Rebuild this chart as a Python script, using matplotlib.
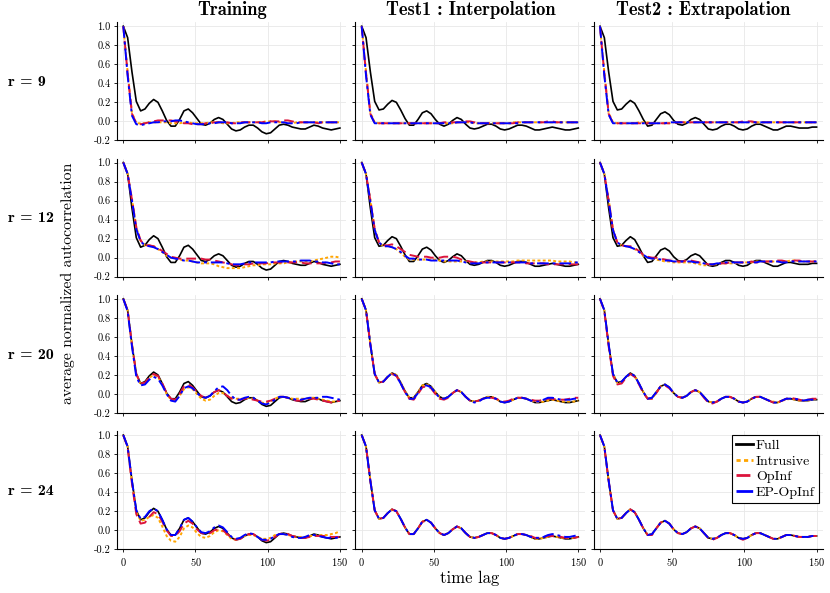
import numpy as np
import matplotlib
matplotlib.use("Agg")
import matplotlib.pyplot as plt

plt.rcParams['font.family'] = 'serif'
plt.rcParams['font.serif'] = ['cmr10']
plt.rcParams['mathtext.fontset'] = 'cm'
plt.rcParams['axes.formatter.use_mathtext'] = True

# time lags (every 3 steps)
lags = np.arange(0, 151, 3)

col_titles = ['Training', 'Test1 : Interpolation', 'Test2 : Extrapolation']
ranks = [9, 12, 20, 24]
labels = ['Full', 'Intrusive', 'OpInf', 'EP-OpInf']

# ---- full model (same in each row) ----
full_train = [1.00, 0.88, 0.52, 0.21, 0.11, 0.13, 0.19, 0.23, 0.20, 0.11,
              0.01, -0.05, -0.05, 0.02, 0.11, 0.13, 0.09, 0.03, -0.03, -0.04,
              -0.02, 0.02, 0.04, 0.02, -0.03, -0.08, -0.10, -0.09, -0.06, -0.04,
              -0.04, -0.07, -0.11, -0.13, -0.12, -0.08, -0.04, -0.03, -0.04, -0.06,
              -0.07, -0.08, -0.08, -0.06, -0.04, -0.05, -0.07, -0.08, -0.09, -0.08,
              -0.07]
full_interp = [1.00, 0.88, 0.52, 0.21, 0.12, 0.13, 0.18, 0.22, 0.20, 0.12,
               0.03, -0.04, -0.04, 0.02, 0.09, 0.11, 0.08, 0.02, -0.03, -0.05,
               -0.03, 0.01, 0.04, 0.02, -0.03, -0.07, -0.08, -0.07, -0.05, -0.03,
               -0.03, -0.05, -0.08, -0.09, -0.08, -0.06, -0.04, -0.04, -0.05, -0.07,
               -0.09, -0.09, -0.08, -0.07, -0.06, -0.07, -0.08, -0.09, -0.09, -0.08,
               -0.07]
full_extrap = [1.00, 0.88, 0.52, 0.21, 0.12, 0.13, 0.18, 0.22, 0.19, 0.11,
               0.02, -0.05, -0.04, 0.02, 0.08, 0.10, 0.07, 0.01, -0.03, -0.04,
               -0.02, 0.02, 0.04, 0.02, -0.03, -0.08, -0.09, -0.08, -0.05, -0.03,
               -0.03, -0.05, -0.08, -0.09, -0.08, -0.05, -0.03, -0.03, -0.05, -0.07,
               -0.09, -0.09, -0.07, -0.05, -0.05, -0.06, -0.07, -0.07, -0.07, -0.06,
               -0.06]

# ---- r = 9 ----
intr_9_train = [1.00, 0.52, 0.09, -0.02, -0.02, -0.02, -0.01, -0.01, -0.01, -0.01,
                -0.01, -0.02, -0.02, -0.02, -0.01, -0.01, -0.02, -0.02, -0.02, -0.02,
                -0.01, -0.01, -0.01, -0.02, -0.02, -0.02, -0.01, -0.01, -0.01, -0.01,
                -0.01, -0.01, -0.01, 0.00, 0.00, 0.00, -0.01, -0.01, -0.02, -0.02,
                -0.01, -0.01, -0.01, -0.01, -0.01, -0.01, -0.01, -0.01, -0.01, -0.01,
                -0.01]
opinf_9_train = [1.00, 0.50, 0.08, -0.02, -0.03, -0.02, -0.01, 0.00, 0.01, 0.01,
                 0.01, 0.01, 0.00, -0.01, -0.02, -0.02, -0.03, -0.03, -0.03, -0.02,
                 -0.02, -0.01, -0.01, -0.01, -0.01, -0.02, -0.02, -0.01, -0.01, -0.01,
                 -0.01, -0.01, -0.01, 0.00, 0.00, 0.00, 0.00, 0.01, 0.01, 0.00,
                 -0.01, -0.01, -0.01, -0.01, -0.01, -0.02, -0.01, -0.01, -0.01, -0.01,
                 -0.01]
ep_9_train = [1.00, 0.48, 0.06, -0.03, -0.04, -0.03, -0.02, -0.01, -0.01, 0.00,
              0.00, 0.00, 0.01, 0.01, 0.00, -0.01, -0.02, -0.03, -0.03, -0.03,
              -0.02, -0.02, -0.01, -0.01, -0.01, -0.02, -0.02, -0.02, -0.01, -0.01,
              -0.01, -0.01, -0.02, -0.02, -0.01, -0.01, -0.01, -0.01, -0.02, -0.02,
              -0.02, -0.01, -0.01, -0.01, -0.01, -0.01, -0.01, -0.01, -0.01, -0.01,
              -0.01]
intr_9_interp = [1.00, 0.52, 0.09, -0.01, -0.02, -0.02, -0.02, -0.02, -0.02, -0.02,
                 -0.02, -0.02, -0.02, -0.02, -0.02, -0.02, -0.02, -0.02, -0.02, -0.02,
                 -0.02, -0.02, -0.01, -0.01, -0.01, -0.01, -0.02, -0.02, -0.02, -0.02,
                 -0.02, -0.02, -0.02, -0.02, -0.02, -0.01, -0.01, -0.01, -0.01, -0.01,
                 -0.01, -0.01, -0.01, -0.01, -0.01, -0.01, -0.01, -0.01, -0.01, -0.01,
                 -0.01]
opinf_9_interp = [1.00, 0.50, 0.08, -0.02, -0.02, -0.02, -0.02, -0.02, -0.02, -0.02,
                  -0.02, -0.02, -0.02, -0.02, -0.02, -0.02, -0.02, -0.02, -0.02, -0.01,
                  -0.01, -0.01, -0.01, -0.01, 0.00, 0.00, -0.01, -0.02, -0.02, -0.02,
                  -0.02, -0.02, -0.02, -0.02, -0.02, -0.02, -0.01, -0.01, -0.01, -0.01,
                  -0.01, -0.01, -0.01, 0.00, 0.00, -0.01, -0.01, -0.01, -0.01, -0.01,
                  -0.01]
ep_9_interp = [1.00, 0.48, 0.07, -0.02, -0.02, -0.02, -0.02, -0.02, -0.02, -0.02,
               -0.02, -0.02, -0.02, -0.02, -0.02, -0.02, -0.02, -0.02, -0.02, -0.02,
               -0.02, -0.02, -0.01, -0.01, -0.01, -0.01, -0.02, -0.02, -0.02, -0.02,
               -0.02, -0.02, -0.02, -0.02, -0.02, -0.02, -0.02, -0.01, -0.01, -0.01,
               -0.01, -0.01, -0.01, -0.01, -0.01, -0.01, -0.01, -0.01, -0.01, -0.01,
               -0.01]
intr_9_extrap = [1.00, 0.52, 0.09, -0.01, -0.02, -0.02, -0.02, -0.02, -0.02, -0.01,
                 -0.01, -0.01, -0.02, -0.02, -0.02, -0.02, -0.02, -0.01, -0.01, -0.01,
                 -0.01, -0.01, -0.01, -0.01, -0.01, -0.01, -0.01, -0.01, -0.01, -0.01,
                 -0.01, -0.01, -0.01, -0.01, -0.01, -0.01, -0.01, -0.01, -0.01, -0.01,
                 -0.01, -0.01, -0.01, -0.01, -0.01, -0.01, -0.01, -0.01, -0.01, -0.01,
                 -0.01]
opinf_9_extrap = [1.00, 0.50, 0.08, -0.02, -0.02, -0.02, -0.02, -0.02, -0.02, -0.02,
                  -0.02, -0.02, -0.02, -0.02, -0.02, -0.02, -0.02, -0.02, -0.01, -0.01,
                  -0.01, -0.01, -0.01, -0.01, -0.01, -0.01, -0.01, -0.01, -0.01, -0.01,
                  -0.01, -0.01, -0.01, 0.00, 0.00, 0.00, -0.01, -0.01, -0.01, -0.01,
                  -0.01, -0.01, -0.01, -0.01, -0.01, -0.01, -0.01, -0.01, -0.01, -0.01,
                  -0.01]
ep_9_extrap = [1.00, 0.48, 0.07, -0.02, -0.02, -0.02, -0.02, -0.02, -0.02, -0.02,
               -0.02, -0.02, -0.02, -0.02, -0.02, -0.02, -0.01, -0.01, -0.01, -0.01,
               -0.01, -0.01, -0.01, -0.01, -0.01, -0.01, -0.01, -0.01, -0.01, -0.01,
               -0.01, -0.01, -0.01, -0.01, -0.01, -0.01, -0.01, -0.01, -0.01, -0.01,
               -0.01, -0.01, -0.01, -0.01, -0.01, -0.01, -0.01, -0.01, -0.01, -0.01,
               -0.01]

# ---- r = 12 ----
intr_12_train = [1.00, 0.88, 0.62, 0.32, 0.18, 0.13, 0.13, 0.12, 0.09, 0.06,
                 0.02, 0.00, -0.01, -0.02, -0.03, -0.03, -0.04, -0.05, -0.06, -0.06,
                 -0.06, -0.07, -0.09, -0.10, -0.11, -0.11, -0.11, -0.11, -0.10, -0.09,
                 -0.08, -0.08, -0.07, -0.07, -0.07, -0.06, -0.06, -0.06, -0.05, -0.05,
                 -0.04, -0.04, -0.04, -0.04, -0.03, -0.02, -0.01, 0.00, 0.01, 0.01,
                 0.00]
opinf_12_train = [1.00, 0.88, 0.61, 0.32, 0.18, 0.13, 0.13, 0.12, 0.10, 0.07,
                  0.04, 0.01, 0.00, -0.01, -0.01, -0.01, -0.01, -0.01, -0.01, -0.02,
                  -0.02, -0.03, -0.04, -0.05, -0.06, -0.07, -0.08, -0.08, -0.07, -0.07,
                  -0.06, -0.06, -0.06, -0.06, -0.05, -0.05, -0.05, -0.05, -0.05, -0.05,
                  -0.05, -0.05, -0.06, -0.06, -0.06, -0.06, -0.06, -0.05, -0.05, -0.04,
                  -0.04]
ep_12_train = [1.00, 0.88, 0.60, 0.30, 0.17, 0.13, 0.12, 0.11, 0.09, 0.06,
               0.03, 0.00, -0.01, -0.02, -0.03, -0.03, -0.04, -0.05, -0.05, -0.05,
               -0.05, -0.05, -0.05, -0.05, -0.06, -0.07, -0.07, -0.07, -0.06, -0.05,
               -0.05, -0.05, -0.05, -0.05, -0.05, -0.04, -0.04, -0.04, -0.04, -0.04,
               -0.04, -0.03, -0.03, -0.03, -0.04, -0.04, -0.05, -0.05, -0.06, -0.07,
               -0.07]
intr_12_interp = [1.00, 0.88, 0.61, 0.30, 0.16, 0.12, 0.12, 0.11, 0.09, 0.05,
                  0.01, -0.02, -0.02, -0.02, -0.02, -0.02, -0.02, -0.02, -0.03, -0.04,
                  -0.04, -0.04, -0.04, -0.04, -0.04, -0.05, -0.05, -0.05, -0.04, -0.04,
                  -0.04, -0.04, -0.04, -0.04, -0.04, -0.04, -0.03, -0.03, -0.03, -0.03,
                  -0.03, -0.03, -0.03, -0.03, -0.03, -0.04, -0.04, -0.04, -0.04, -0.05,
                  -0.05]
opinf_12_interp = [1.00, 0.88, 0.60, 0.30, 0.16, 0.13, 0.13, 0.14, 0.12, 0.09,
                   0.06, 0.03, 0.02, 0.01, 0.01, 0.01, 0.00, 0.00, 0.00, 0.01,
                   0.01, 0.01, 0.00, -0.02, -0.03, -0.04, -0.05, -0.05, -0.05, -0.05,
                   -0.05, -0.05, -0.05, -0.05, -0.05, -0.05, -0.05, -0.05, -0.06, -0.06,
                   -0.06, -0.06, -0.06, -0.07, -0.07, -0.07, -0.07, -0.07, -0.07, -0.07,
                   -0.07]
ep_12_interp = [1.00, 0.88, 0.59, 0.29, 0.16, 0.12, 0.12, 0.11, 0.09, 0.06,
                0.02, -0.01, -0.01, -0.02, -0.02, -0.02, -0.03, -0.03, -0.03, -0.03,
                -0.03, -0.03, -0.03, -0.04, -0.05, -0.06, -0.06, -0.06, -0.05, -0.05,
                -0.05, -0.05, -0.05, -0.05, -0.05, -0.05, -0.05, -0.05, -0.05, -0.06,
                -0.06, -0.06, -0.06, -0.06, -0.06, -0.06, -0.06, -0.06, -0.06, -0.05,
                -0.05]
intr_12_extrap = [1.00, 0.88, 0.61, 0.30, 0.16, 0.13, 0.12, 0.11, 0.09, 0.06,
                  0.02, 0.00, -0.01, -0.02, -0.03, -0.04, -0.04, -0.05, -0.05, -0.05,
                  -0.05, -0.05, -0.06, -0.07, -0.08, -0.08, -0.07, -0.07, -0.06, -0.06,
                  -0.06, -0.06, -0.05, -0.05, -0.05, -0.05, -0.04, -0.04, -0.04, -0.04,
                  -0.04, -0.04, -0.04, -0.04, -0.03, -0.03, -0.04, -0.04, -0.04, -0.04,
                  -0.04]
opinf_12_extrap = [1.00, 0.88, 0.60, 0.29, 0.16, 0.13, 0.12, 0.12, 0.10, 0.07,
                   0.03, 0.01, 0.00, 0.00, -0.01, -0.02, -0.03, -0.03, -0.04, -0.04,
                   -0.03, -0.03, -0.04, -0.05, -0.06, -0.07, -0.07, -0.07, -0.06, -0.06,
                   -0.05, -0.05, -0.05, -0.05, -0.05, -0.04, -0.05, -0.05, -0.04, -0.04,
                   -0.04, -0.03, -0.03, -0.04, -0.04, -0.03, -0.03, -0.04, -0.04, -0.04,
                   -0.04]
ep_12_extrap = [1.00, 0.88, 0.59, 0.29, 0.16, 0.13, 0.12, 0.11, 0.09, 0.06,
                0.03, 0.00, -0.01, -0.01, -0.02, -0.03, -0.03, -0.04, -0.04, -0.04,
                -0.04, -0.04, -0.05, -0.05, -0.06, -0.07, -0.07, -0.06, -0.06, -0.05,
                -0.05, -0.05, -0.05, -0.05, -0.05, -0.05, -0.05, -0.04, -0.04, -0.04,
                -0.04, -0.04, -0.05, -0.05, -0.04, -0.04, -0.04, -0.04, -0.04, -0.04,
                -0.04]

# ---- r = 20 ----
intr_20_train = [1.00, 0.88, 0.52, 0.21, 0.10, 0.12, 0.17, 0.20, 0.18, 0.10,
                 0.00, -0.06, -0.07, -0.02, 0.05, 0.07, 0.05, 0.00, -0.05, -0.07,
                 -0.06, -0.02, 0.01, 0.01, -0.02, -0.04, -0.05, -0.05, -0.05, -0.04,
                 -0.05, -0.07, -0.09, -0.10, -0.08, -0.05, -0.03, -0.03, -0.04, -0.05,
                 -0.05, -0.05, -0.05, -0.04, -0.04, -0.05, -0.06, -0.07, -0.08, -0.08,
                 -0.07]
opinf_20_train = [1.00, 0.88, 0.52, 0.21, 0.11, 0.12, 0.17, 0.21, 0.19, 0.11,
                  0.01, -0.05, -0.06, 0.00, 0.08, 0.10, 0.07, 0.02, -0.02, -0.04,
                  -0.02, 0.02, 0.04, 0.02, -0.02, -0.05, -0.06, -0.06, -0.05, -0.05,
                  -0.06, -0.07, -0.08, -0.08, -0.07, -0.05, -0.03, -0.03, -0.04, -0.06,
                  -0.07, -0.07, -0.06, -0.05, -0.05, -0.06, -0.07, -0.08, -0.09, -0.08,
                  -0.07]
ep_20_train = [1.00, 0.87, 0.50, 0.18, 0.09, 0.10, 0.15, 0.18, 0.16, 0.09,
               0.00, -0.07, -0.08, -0.02, 0.06, 0.08, 0.06, 0.01, -0.03, -0.04,
               -0.02, 0.03, 0.07, 0.08, 0.04, -0.02, -0.06, -0.06, -0.04, -0.03,
               -0.04, -0.07, -0.10, -0.11, -0.09, -0.06, -0.03, -0.03, -0.04, -0.05,
               -0.06, -0.06, -0.05, -0.04, -0.04, -0.04, -0.03, -0.03, -0.04, -0.05,
               -0.06]
intr_20_interp = [1.00, 0.88, 0.52, 0.21, 0.12, 0.13, 0.18, 0.22, 0.20, 0.12,
                  0.03, -0.04, -0.04, 0.02, 0.09, 0.10, 0.08, 0.02, -0.03, -0.05,
                  -0.03, 0.01, 0.04, 0.02, -0.03, -0.07, -0.08, -0.07, -0.05, -0.03,
                  -0.03, -0.05, -0.08, -0.09, -0.08, -0.06, -0.04, -0.04, -0.05, -0.07,
                  -0.08, -0.09, -0.08, -0.07, -0.06, -0.07, -0.08, -0.08, -0.08, -0.08,
                  -0.07]
opinf_20_interp = [1.00, 0.88, 0.52, 0.21, 0.12, 0.13, 0.18, 0.21, 0.19, 0.11,
                   0.02, -0.05, -0.06, 0.00, 0.07, 0.08, 0.06, 0.00, -0.05, -0.06,
                   -0.04, 0.01, 0.04, 0.02, -0.03, -0.07, -0.08, -0.07, -0.05, -0.04,
                   -0.04, -0.05, -0.07, -0.08, -0.07, -0.05, -0.04, -0.04, -0.05, -0.06,
                   -0.07, -0.07, -0.06, -0.05, -0.05, -0.06, -0.06, -0.06, -0.05, -0.04,
                   -0.04]
ep_20_interp = [1.00, 0.88, 0.52, 0.21, 0.12, 0.13, 0.18, 0.22, 0.19, 0.11,
                0.02, -0.05, -0.05, 0.01, 0.08, 0.09, 0.07, 0.01, -0.04, -0.05,
                -0.03, 0.01, 0.04, 0.02, -0.03, -0.07, -0.09, -0.08, -0.05, -0.04,
                -0.04, -0.05, -0.08, -0.09, -0.08, -0.06, -0.04, -0.04, -0.05, -0.07,
                -0.08, -0.08, -0.06, -0.04, -0.04, -0.05, -0.06, -0.06, -0.06, -0.05,
                -0.05]
intr_20_extrap = [1.00, 0.88, 0.52, 0.21, 0.11, 0.12, 0.18, 0.21, 0.19, 0.11,
                  0.02, -0.05, -0.05, 0.01, 0.08, 0.10, 0.07, 0.01, -0.03, -0.04,
                  -0.02, 0.02, 0.04, 0.02, -0.03, -0.08, -0.09, -0.08, -0.05, -0.03,
                  -0.03, -0.05, -0.08, -0.09, -0.08, -0.05, -0.03, -0.03, -0.05, -0.07,
                  -0.08, -0.09, -0.07, -0.06, -0.05, -0.06, -0.07, -0.07, -0.07, -0.06,
                  -0.05]
opinf_20_extrap = [1.00, 0.87, 0.50, 0.19, 0.10, 0.11, 0.17, 0.21, 0.18, 0.10,
                   0.01, -0.05, -0.05, 0.01, 0.08, 0.09, 0.06, 0.01, -0.03, -0.04,
                   -0.02, 0.02, 0.04, 0.02, -0.04, -0.09, -0.10, -0.08, -0.05, -0.03,
                   -0.03, -0.05, -0.08, -0.09, -0.08, -0.05, -0.03, -0.03, -0.05, -0.07,
                   -0.09, -0.09, -0.07, -0.05, -0.04, -0.05, -0.06, -0.07, -0.06, -0.05,
                   -0.05]
ep_20_extrap = [1.00, 0.88, 0.52, 0.21, 0.12, 0.13, 0.18, 0.22, 0.19, 0.11,
                0.02, -0.05, -0.04, 0.02, 0.08, 0.10, 0.07, 0.01, -0.03, -0.04,
                -0.02, 0.02, 0.04, 0.02, -0.03, -0.08, -0.09, -0.08, -0.05, -0.03,
                -0.03, -0.05, -0.08, -0.09, -0.08, -0.05, -0.03, -0.03, -0.05, -0.07,
                -0.09, -0.09, -0.07, -0.05, -0.05, -0.05, -0.06, -0.07, -0.06, -0.06,
                -0.05]

# ---- r = 24 ----
intr_24_train = [1.00, 0.88, 0.51, 0.19, 0.10, 0.11, 0.14, 0.16, 0.13, 0.04,
                 -0.06, -0.11, -0.12, -0.07, 0.02, 0.05, 0.03, -0.03, -0.07, -0.08,
                 -0.06, -0.02, 0.00, -0.01, -0.05, -0.09, -0.10, -0.09, -0.06, -0.05,
                 -0.05, -0.07, -0.09, -0.09, -0.08, -0.05, -0.04, -0.04, -0.05, -0.06,
                 -0.07, -0.07, -0.07, -0.06, -0.06, -0.05, -0.05, -0.05, -0.04, -0.03,
                 -0.01]
opinf_24_train = [1.00, 0.87, 0.49, 0.17, 0.07, 0.08, 0.14, 0.19, 0.17, 0.09,
                  0.00, -0.06, -0.06, -0.01, 0.07, 0.10, 0.07, 0.01, -0.03, -0.04,
                  -0.03, 0.00, 0.01, 0.00, -0.04, -0.08, -0.10, -0.09, -0.06, -0.04,
                  -0.04, -0.07, -0.10, -0.11, -0.10, -0.07, -0.04, -0.03, -0.04, -0.06,
                  -0.07, -0.08, -0.08, -0.07, -0.06, -0.06, -0.06, -0.06, -0.07, -0.07,
                  -0.07]
ep_24_train = [1.00, 0.88, 0.52, 0.21, 0.12, 0.14, 0.20, 0.23, 0.20, 0.11,
               0.01, -0.05, -0.05, 0.02, 0.11, 0.13, 0.09, 0.03, -0.02, -0.03,
               -0.01, 0.03, 0.05, 0.03, -0.02, -0.07, -0.09, -0.08, -0.05, -0.03,
               -0.04, -0.07, -0.10, -0.10, -0.09, -0.06, -0.04, -0.04, -0.05, -0.07,
               -0.08, -0.08, -0.07, -0.05, -0.05, -0.06, -0.07, -0.08, -0.08, -0.08,
               -0.07]
intr_24_interp = [1.00, 0.88, 0.52, 0.21, 0.12, 0.13, 0.18, 0.22, 0.20, 0.12,
                  0.03, -0.04, -0.04, 0.02, 0.09, 0.11, 0.08, 0.02, -0.03, -0.05,
                  -0.03, 0.01, 0.04, 0.02, -0.03, -0.07, -0.08, -0.07, -0.05, -0.03,
                  -0.03, -0.05, -0.08, -0.09, -0.08, -0.06, -0.04, -0.04, -0.05, -0.07,
                  -0.09, -0.09, -0.08, -0.07, -0.06, -0.07, -0.08, -0.08, -0.08, -0.08,
                  -0.07]
opinf_24_interp = [1.00, 0.88, 0.52, 0.21, 0.12, 0.13, 0.18, 0.22, 0.20, 0.12,
                   0.03, -0.04, -0.04, 0.02, 0.09, 0.10, 0.08, 0.02, -0.03, -0.05,
                   -0.03, 0.01, 0.04, 0.02, -0.03, -0.07, -0.08, -0.07, -0.05, -0.03,
                   -0.03, -0.05, -0.08, -0.09, -0.08, -0.06, -0.04, -0.04, -0.05, -0.06,
                   -0.08, -0.08, -0.07, -0.06, -0.06, -0.07, -0.07, -0.08, -0.08, -0.08,
                   -0.07]
ep_24_interp = [1.00, 0.88, 0.52, 0.21, 0.12, 0.13, 0.18, 0.22, 0.20, 0.12,
                0.03, -0.04, -0.04, 0.02, 0.09, 0.11, 0.08, 0.02, -0.03, -0.05,
                -0.03, 0.01, 0.04, 0.02, -0.03, -0.07, -0.08, -0.07, -0.05, -0.03,
                -0.03, -0.05, -0.08, -0.09, -0.08, -0.06, -0.04, -0.04, -0.05, -0.07,
                -0.08, -0.08, -0.07, -0.05, -0.04, -0.05, -0.06, -0.07, -0.07, -0.06,
                -0.05]
intr_24_extrap = [1.00, 0.88, 0.52, 0.21, 0.12, 0.13, 0.18, 0.22, 0.19, 0.11,
                  0.02, -0.05, -0.04, 0.02, 0.08, 0.10, 0.07, 0.01, -0.03, -0.04,
                  -0.02, 0.02, 0.04, 0.02, -0.03, -0.08, -0.09, -0.08, -0.05, -0.03,
                  -0.03, -0.05, -0.08, -0.09, -0.08, -0.05, -0.03, -0.03, -0.05, -0.07,
                  -0.09, -0.09, -0.07, -0.05, -0.05, -0.06, -0.07, -0.07, -0.07, -0.06,
                  -0.06]
opinf_24_extrap = [1.00, 0.88, 0.52, 0.21, 0.12, 0.13, 0.18, 0.22, 0.19, 0.11,
                   0.02, -0.05, -0.05, 0.02, 0.08, 0.10, 0.07, 0.01, -0.03, -0.04,
                   -0.02, 0.02, 0.04, 0.02, -0.03, -0.08, -0.10, -0.08, -0.05, -0.03,
                   -0.03, -0.05, -0.08, -0.10, -0.08, -0.05, -0.03, -0.03, -0.05, -0.07,
                   -0.09, -0.09, -0.07, -0.05, -0.05, -0.06, -0.07, -0.07, -0.07, -0.06,
                   -0.06]
ep_24_extrap = [1.00, 0.88, 0.52, 0.21, 0.12, 0.13, 0.18, 0.22, 0.19, 0.11,
                0.02, -0.05, -0.04, 0.02, 0.08, 0.10, 0.07, 0.01, -0.03, -0.04,
                -0.02, 0.02, 0.04, 0.02, -0.03, -0.08, -0.09, -0.08, -0.05, -0.03,
                -0.03, -0.05, -0.08, -0.09, -0.08, -0.05, -0.03, -0.03, -0.05, -0.07,
                -0.09, -0.09, -0.07, -0.05, -0.05, -0.06, -0.07, -0.07, -0.07, -0.06,
                -0.06]

full = [full_train, full_interp, full_extrap]
reduced = {
    (0, 0): (intr_9_train, opinf_9_train, ep_9_train),
    (0, 1): (intr_9_interp, opinf_9_interp, ep_9_interp),
    (0, 2): (intr_9_extrap, opinf_9_extrap, ep_9_extrap),
    (1, 0): (intr_12_train, opinf_12_train, ep_12_train),
    (1, 1): (intr_12_interp, opinf_12_interp, ep_12_interp),
    (1, 2): (intr_12_extrap, opinf_12_extrap, ep_12_extrap),
    (2, 0): (intr_20_train, opinf_20_train, ep_20_train),
    (2, 1): (intr_20_interp, opinf_20_interp, ep_20_interp),
    (2, 2): (intr_20_extrap, opinf_20_extrap, ep_20_extrap),
    (3, 0): (intr_24_train, opinf_24_train, ep_24_train),
    (3, 1): (intr_24_interp, opinf_24_interp, ep_24_interp),
    (3, 2): (intr_24_extrap, opinf_24_extrap, ep_24_extrap),
}

W, H = 830, 593
fig = plt.figure(figsize=(W / 100, H / 100), dpi=100)

lefts = [116.8, 355.2, 593.5]
ax_w = 229.6
ax_h = 118.0

for i in range(4):
    for j in range(3):
        bottom = 140.4 + 136.3 * i
        ax = fig.add_axes([lefts[j] / W, 1 - bottom / H, ax_w / W, ax_h / H])
        intr, opinf, ep = reduced[(i, j)]
        kw = dict(solid_joinstyle='round', dash_joinstyle='round')
        ax.plot(lags, full[j], color='black', lw=1.2, label=labels[0], **kw)
        ax.plot(lags, intr, color='orange', lw=1.4, ls=(0, (1.5, 1.2)), label=labels[1], **kw)
        ax.plot(lags, opinf, color='crimson', lw=1.4, ls=(0, (5, 2.5)), label=labels[2], **kw)
        ax.plot(lags, ep, color='blue', lw=1.4, ls=(0, (6, 2, 1.5, 2)), label=labels[3], **kw)

        ax.set_xlim(-4.5, 154.5)
        ax.set_ylim(-0.2, 1.04)
        ax.set_xticks([0, 50, 100, 150])
        ax.set_yticks([-0.2, 0.0, 0.2, 0.4, 0.6, 0.8, 1.0])
        ax.yaxis.set_major_formatter(matplotlib.ticker.FormatStrFormatter('%.1f'))
        ax.grid(True, color='#e8e8e8', lw=0.6)
        ax.set_axisbelow(True)
        for s in ['top', 'right']:
            ax.spines[s].set_visible(False)
        for s in ['left', 'bottom']:
            ax.spines[s].set_linewidth(0.8)
        ax.tick_params(direction='out', length=2.5, width=0.6, labelsize=7.5, pad=2)
        if j > 0:
            ax.tick_params(labelleft=False)
        if i < 3:
            ax.tick_params(labelbottom=False)
        if i == 3 and j == 2:
            leg = ax.legend(loc='upper right', fontsize=10, frameon=True, fancybox=False,
                            edgecolor='black', framealpha=1, handlelength=1.2,
                            handletextpad=0.2, labelspacing=0.2, borderpad=0.3,
                            borderaxespad=0.3)
            leg.get_frame().set_linewidth(0.8)
            for line in leg.get_lines():
                line.set_linewidth(2.0)

col_centers = [232, 471, 703]
for j, t in enumerate(col_titles):
    fig.text(col_centers[j] / W, 1 - 10 / H, t, ha='center', va='center',
             fontsize=13.3, family='cmb10')

for i, r in enumerate(ranks):
    yc = 82 + 136.3 * i
    fig.text(8 / W, 1 - yc / H, 'r = %d' % r, ha='left', va='center',
             fontsize=11.5, family='cmb10')

fig.text(68 / W, 1 - 283 / H, 'average normalized autocorrelation', rotation=90,
         ha='center', va='center', fontsize=11.3)
fig.text(470 / W, 1 - 578 / H, 'time lag', ha='center', va='center', fontsize=12)

fig.savefig('out.png', dpi=100)
